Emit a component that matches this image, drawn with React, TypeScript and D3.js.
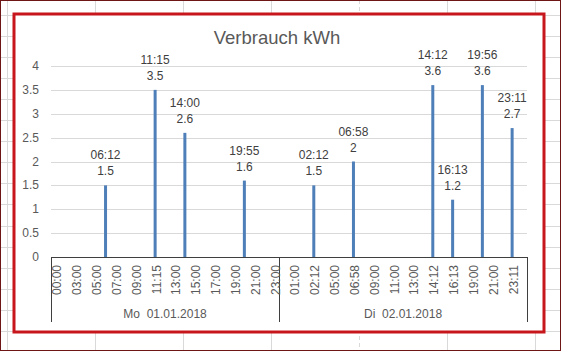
import * as d3 from "d3";

const moCategories = [
  "00:00", "01:00", "03:00", "04:00", "05:00", "06:12", "07:00", "08:00", "09:00", "10:00",
  "11:15", "12:00", "13:00", "14:00", "15:00", "16:00", "17:00", "18:00", "19:00", "19:55",
  "21:00", "22:00", "23:00",
];
const diCategories = [
  "00:00", "01:00", "02:00", "02:12", "04:00", "05:00", "06:00", "06:58", "08:00", "09:00",
  "10:00", "11:00", "12:00", "13:00", "14:00", "14:12", "15:00", "16:13", "18:00", "19:00",
  "19:56", "21:00", "22:00", "23:11", "23:59",
];
const dayLabels = ["Mo  01.01.2018", "Di  02.01.2018"];

const moTimes = ["06:12", "11:15", "14:00", "19:55"];
const moValues = [1.5, 3.5, 2.6, 1.6];
const diTimes = ["02:12", "06:58", "14:12", "16:13", "19:56", "23:11"];
const diValues = [1.5, 2, 3.6, 1.2, 3.6, 2.7];

const yTicks = [0, 0.5, 1, 1.5, 2, 2.5, 3, 3.5, 4];

const W = 561;
const H = 351;
const FONT = "'Liberation Sans', Arial, sans-serif";
const TEXT = "#595959";
const BAR = "#4f7fb8";

export default function App() {
  const keys = [
    ...moCategories.map((c) => `Mo|${c}`),
    ...diCategories.map((c) => `Di|${c}`),
  ];
  const x = d3.scaleBand<string>().domain(keys).range([51, 527]).padding(0);
  const y = d3.scaleLinear().domain([0, 4]).range([257, 66]);
  const bw = x.bandwidth();
  const cx = (k: string) => (x(k) ?? 0) + bw / 2;

  const bars = [
    ...moTimes.map((t, i) => ({ key: `Mo|${t}`, time: t, value: moValues[i] })),
    ...diTimes.map((t, i) => ({ key: `Di|${t}`, time: t, value: diValues[i] })),
  ];

  const sepX = [x(keys[0]) ?? 0, x(`Di|${diCategories[0]}`) ?? 0, 527];
  const groupCenters = [
    (sepX[0] + sepX[1]) / 2,
    (sepX[1] + sepX[2]) / 2,
  ];

  // spreadsheet grid behind the chart
  const colLines = d3.range(0, 7).map((i) => 7 + i * 88);
  const rowLines = d3.range(0, 17).map((i) => 14.5 + i * 21.1);

  return (
    <svg
      width={W}
      height={H}
      style={{ position: "absolute", left: 0, top: 0, display: "block" }}
      fontFamily={FONT}
    >
      <rect x={0} y={0} width={W} height={H} fill="#ffffff" />
      {colLines.map((cx0, i) => (
        <line
          key={`c${i}`}
          x1={cx0 + 0.5}
          x2={cx0 + 0.5}
          y1={0}
          y2={H}
          stroke="#d9d9d9"
          strokeDasharray={i === 4 ? "4,3" : undefined}
        />
      ))}
      {rowLines.map((ry, i) => (
        <line key={`r${i}`} x1={0} x2={W} y1={Math.round(ry) + 0.5} y2={Math.round(ry) + 0.5} stroke="#d9d9d9" />
      ))}
      <rect x={0.5} y={0.5} width={W - 1} height={H - 1} fill="none" stroke="#6e1515" />

      {/* chart area */}
      <rect x={14} y={14} width={530} height={318} fill="#ffffff" stroke="#c8161d" strokeWidth={3} />

      <text x={277} y={44} textAnchor="middle" fontSize={18.5} fill={TEXT}>
        Verbrauch kWh
      </text>

      {yTicks.map((t) => (
        <g key={t}>
          {t > 0 && (
            <line x1={51} x2={527} y1={Math.round(y(t)) + 0.5} y2={Math.round(y(t)) + 0.5} stroke="#d9d9d9" />
          )}
          <text x={39} y={y(t) + 4} textAnchor="end" fontSize={12} fill={TEXT}>
            {t}
          </text>
        </g>
      ))}

      {bars.map((b) => (
        <g key={b.key}>
          <rect x={cx(b.key) - 1.5} y={y(b.value)} width={3} height={y(0) - y(b.value)} fill={BAR} />
          <text x={cx(b.key)} y={y(b.value) - 26} textAnchor="middle" fontSize={12} fill="#404040">
            {b.time}
          </text>
          <text x={cx(b.key)} y={y(b.value) - 10} textAnchor="middle" fontSize={12} fill="#404040">
            {b.value}
          </text>
        </g>
      ))}

      {/* category axis */}
      <line x1={51} x2={527} y1={257.5} y2={257.5} stroke="#3f3f3f" />
      {sepX.map((sx, i) => (
        <line key={`s${i}`} x1={Math.round(sx) + 0.5} x2={Math.round(sx) + 0.5} y1={257} y2={322} stroke="#3f3f3f" />
      ))}
      {keys.map((k, i) =>
        i % 2 === 0 ? (
          <text
            key={k}
            transform={`translate(${cx(k) + 5.5},${265}) rotate(-90)`}
            textAnchor="end"
            fontSize={12}
            fill={TEXT}
          >
            {k.split("|")[1]}
          </text>
        ) : null
      )}
      {dayLabels.map((d, i) => (
        <text key={d} x={groupCenters[i]} y={318} textAnchor="middle" fontSize={12} fill={TEXT} style={{ whiteSpace: "pre" }}>
          {d}
        </text>
      ))}
    </svg>
  );
}
